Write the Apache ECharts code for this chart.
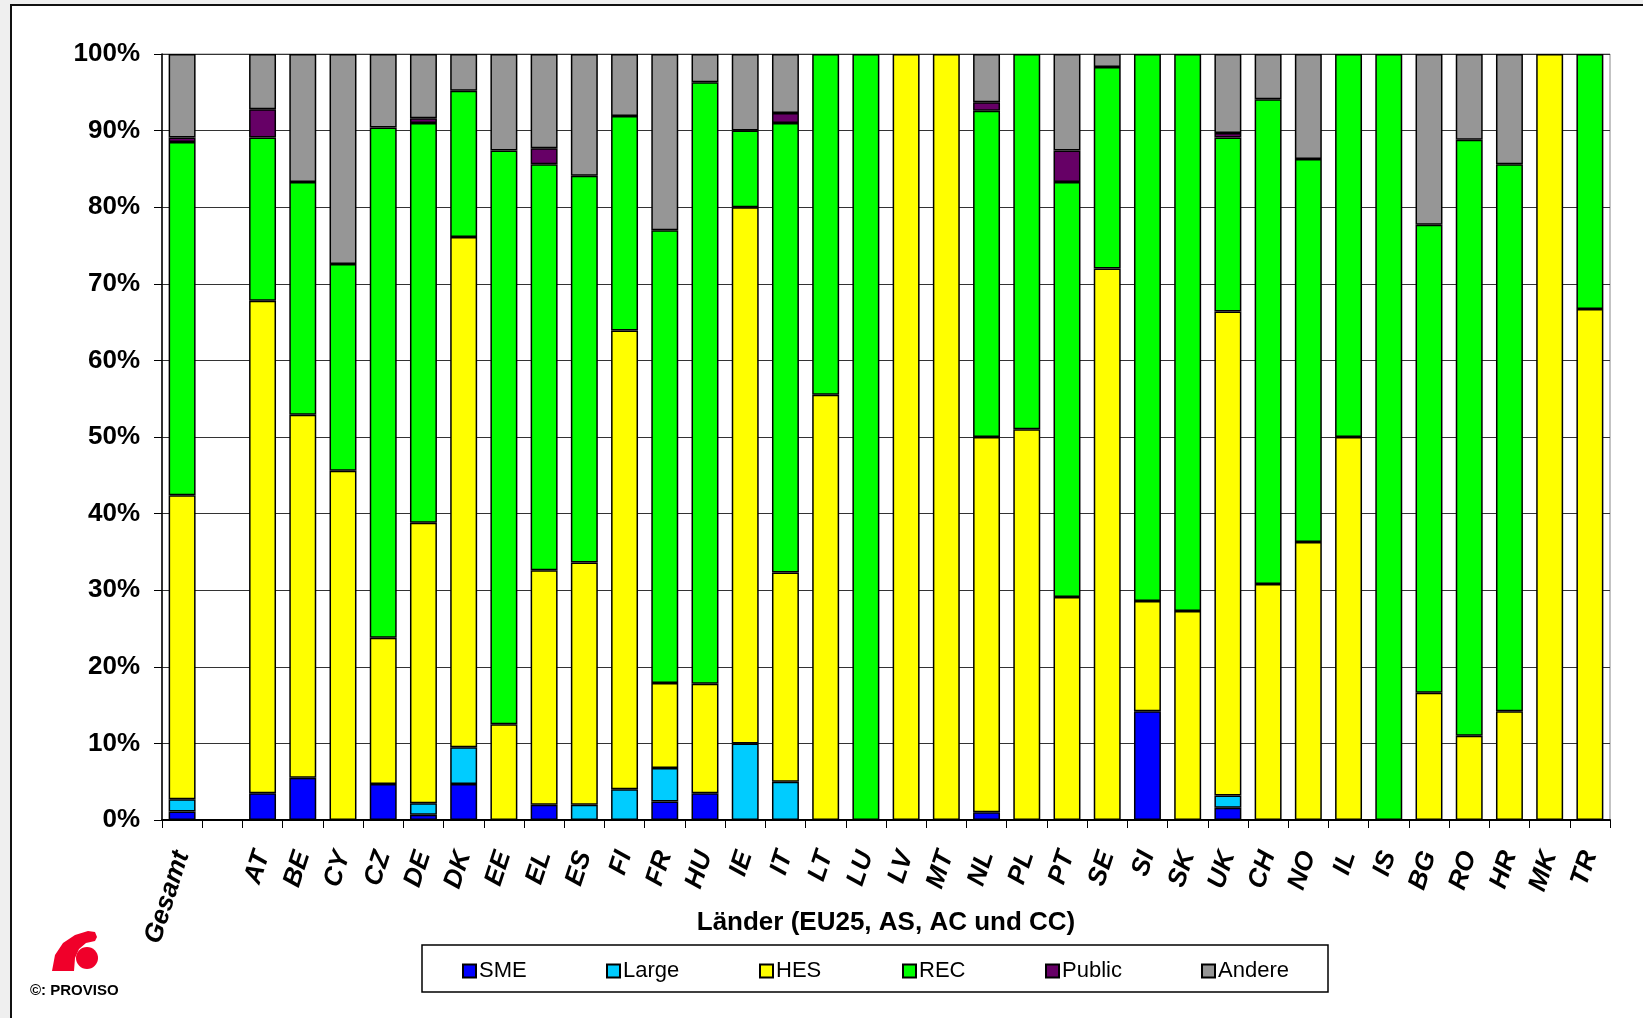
<!DOCTYPE html>
<html>
<head>
<meta charset="utf-8">
<title>Länder (EU25, AS, AC und CC)</title>
<script src="https://cdn.jsdelivr.net/npm/echarts@6/dist/echarts.min.js"></script>
<style>
  html, body { margin: 0; padding: 0; background: #efefef; }
  #chart { width: 1643px; height: 1018px; }
</style>
</head>
<body>
<div id="chart"></div>
<script>
// Kategorien (zweite Spalte ist leer, wie im Original)
const laender = ['Gesamt', '', 'AT', 'BE', 'CY', 'CZ', 'DE', 'DK', 'EE', 'EL', 'ES', 'FI', 'FR', 'HU', 'IE', 'IT',
  'LT', 'LU', 'LV', 'MT', 'NL', 'PL', 'PT', 'SE', 'SI', 'SK', 'UK', 'CH', 'NO', 'IL', 'IS', 'BG', 'RO', 'HR', 'MK', 'TR']

// Anteile in %
const sme    = [1.1, null, 3.5, 5.5, 0, 4.7, 0.7, 4.7, 0, 2.0, 0, 0, 2.4, 3.5, 0, 0,
  0, 0, 0, 0, 1.0, 0, 0, 0, 14.2, 0, 1.6, 0, 0, 0, 0, 0, 0, 0, 0, 0]
const large  = [1.6, null, 0, 0, 0, 0, 1.5, 4.8, 0, 0, 2.0, 4.0, 4.4, 0, 10, 5.0,
  0, 0, 0, 0, 0, 0, 0, 0, 0, 0, 1.6, 0, 0, 0, 0, 0, 0, 0, 0, 0]
const hes    = [39.7, null, 64.3, 47.4, 45.6, 19.1, 36.6, 66.6, 12.5, 30.6, 31.6, 59.9, 11.1, 14.3, 70, 27.3,
  55.5, 0, 100, 100, 49.0, 51, 29.1, 72.0, 14.4, 27.3, 63.2, 30.8, 36.3, 50, 0, 16.6, 11.0, 14.2, 100, 66.7]
const rec    = [46.1, null, 21.3, 30.4, 27.0, 66.6, 52.2, 19.1, 74.9, 53.0, 50.5, 28.0, 59.1, 78.5, 10, 58.7,
  44.5, 100, 0, 0, 42.6, 49, 54.2, 26.3, 71.4, 72.7, 22.7, 63.3, 50.0, 50, 100, 61.1, 77.8, 71.4, 0, 33.3]
const publicA = [0.6, null, 3.7, 0, 0, 0, 0.6, 0, 0, 2.1, 0, 0, 0, 0, 0, 1.3,
  0, 0, 0, 0, 1.1, 0, 4.1, 0, 0, 0, 0.6, 0, 0, 0, 0, 0, 0, 0, 0, 0]
const andere = [10.9, null, 7.2, 16.7, 27.4, 9.6, 8.4, 4.8, 12.6, 12.3, 15.9, 8.1, 23.0, 3.7, 10, 7.7,
  0, 0, 0, 0, 6.3, 0, 12.6, 1.7, 0, 0, 10.3, 5.9, 13.7, 0, 0, 22.3, 11.2, 14.4, 0, 0]

const yTicks = [0, 10, 20, 30, 40, 50, 60, 70, 80, 90, 100]

const serien = [
  {name: 'SME', data: sme, color: '#0000ff'},
  {name: 'Large', data: large, color: '#00ccff'},
  {name: 'HES', data: hes, color: '#ffff00'},
  {name: 'REC', data: rec, color: '#00ff00'},
  {name: 'Public', data: publicA, color: '#660066'},
  {name: 'Andere', data: andere, color: '#969696'}
]
// x-Position der Legendeneinträge
const legendLeft = [462, 606, 759, 902, 1045, 1201]

const font = 'Liberation Sans, Arial, sans-serif'

let chart = echarts.init(document.getElementById('chart'))

let series = []
serien.forEach(s => {
  series.push({
    name: s.name,
    type: 'bar',
    stack: 'gesamt',
    barWidth: '67%',
    itemStyle: {color: s.color, borderColor: '#000', borderWidth: 1.5},
    emphasis: {disabled: true},
    data: s.data.map(v => (v === null || v === 0) ? '-' : v)
  })
})

let legends = serien.map((s, i) => ({
  data: [s.name],
  left: legendLeft[i],
  top: 960,
  padding: 0,
  icon: 'rect',
  itemWidth: 13,
  itemHeight: 13,
  selectedMode: false,
  textStyle: {fontFamily: font, fontSize: 22, color: '#000', padding: [0, 0, 0, -2]}
}))

chart.setOption({
  backgroundColor: '#efefef',
  animation: false,
  graphic: [
    {type: 'rect', z: -10, shape: {x: 11, y: 5, width: 1700, height: 1100},
      style: {fill: '#fff', stroke: '#111', lineWidth: 2}},
    {type: 'rect', z: 10, shape: {x: 422, y: 945, width: 906, height: 47},
      style: {fill: 'rgba(0,0,0,0)', stroke: '#000', lineWidth: 1.5}},
    // PROVISO Logo
    {type: 'polygon', z: 10, shape: {points: [[52, 971], [55, 955], [63, 943], [75, 935], [88, 931], [95, 932],
      [97, 937], [95, 941], [86, 943], [79, 949], [75, 958], [74, 971]]},
      style: {fill: '#f0002a'}},
    {type: 'circle', z: 10, shape: {cx: 87, cy: 958, r: 11}, style: {fill: '#f0002a'}},
    {type: 'text', z: 10, left: 30, top: 983,
      style: {text: '©: PROVISO', font: 'bold 15px ' + font, fill: '#000'}}
  ],
  legend: legends,
  grid: {
    left: 162, right: 33, top: 54, bottom: 198,
    show: true, borderColor: '#888', borderWidth: 1
  },
  xAxis: {
    type: 'category',
    data: laender,
    name: 'Länder (EU25, AS, AC und CC)',
    nameLocation: 'middle',
    nameGap: 90,
    nameMoveOverlap: false,
    nameTextStyle: {fontFamily: font, fontSize: 26, fontWeight: 'bold', color: '#000'},
    axisLine: {lineStyle: {color: '#000', width: 2}},
    axisTick: {show: true, length: 8, lineStyle: {color: '#000'}},
    axisLabel: {
      interval: 0, rotate: 72, margin: 32,
      fontFamily: font, fontSize: 26, fontWeight: 'bold', fontStyle: 'italic', color: '#000'
    }
  },
  yAxis: {
    type: 'value',
    min: yTicks[0],
    max: yTicks[yTicks.length - 1],
    interval: yTicks[1] - yTicks[0],
    axisLine: {show: true, lineStyle: {color: '#000', width: 1.5}},
    axisTick: {show: true, length: 8, lineStyle: {color: '#000'}},
    splitLine: {lineStyle: {color: '#333', width: 1}},
    axisLabel: {
      margin: 22, formatter: '{value}%',
      fontFamily: font, fontSize: 26, fontWeight: 'bold', color: '#000'
    }
  },
  series: series
})
</script>
</body>
</html>
